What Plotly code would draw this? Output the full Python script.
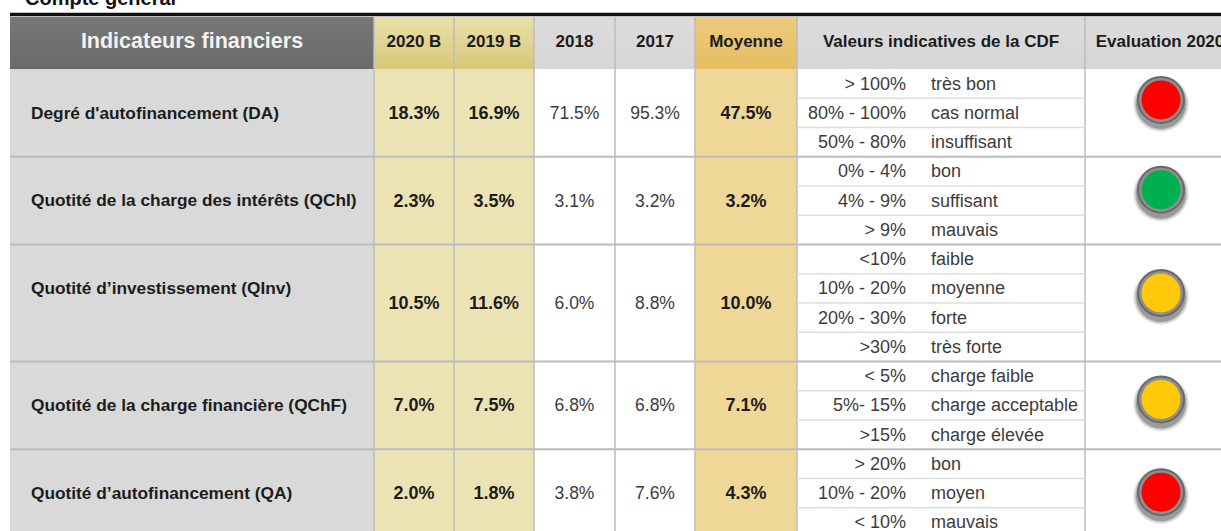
import plotly.graph_objects as go

# ---------- data ----------
title = "Compte général"
header_main = "Indicateurs financiers"
year_headers = ["2020 B", "2019 B", "2018", "2017", "Moyenne"]
cdf_header = "Valeurs indicatives de la CDF"
eval_header = "Evaluation 2020"
indicators = ["Degré d'autofinancement (DA)",
              "Quotité de la charge des intérêts (QChI)",
              "Quotité d’investissement (QInv)",
              "Quotité de la charge financière (QChF)",
              "Quotité d’autofinancement (QA)"]
v2020 = ["18.3%", "2.3%", "10.5%", "7.0%", "2.0%"]
v2019 = ["16.9%", "3.5%", "11.6%", "7.5%", "1.8%"]
v2018 = ["71.5%", "3.1%", "6.0%", "6.8%", "3.8%"]
v2017 = ["95.3%", "3.2%", "8.8%", "6.8%", "7.6%"]
vmean = ["47.5%", "3.2%", "10.0%", "7.1%", "4.3%"]
cdf_ranges = [["> 100%", "80% - 100%", "50% - 80%"],
              ["0% - 4%", "4% - 9%", "> 9%"],
              ["<10%", "10% - 20%", "20% - 30%", ">30%"],
              ["< 5%", "5%- 15%", ">15%"],
              ["> 20%", "10% - 20%", "< 10%"]]
cdf_labels = [["très bon", "cas normal", "insuffisant"],
              ["bon", "suffisant", "mauvais"],
              ["faible", "moyenne", "forte", "très forte"],
              ["charge faible", "charge acceptable", "charge élevée"],
              ["bon", "moyen", "mauvais"]]
lamps = ["red", "green", "amber", "amber", "red"]

# ---------- layout geometry ----------
W, H = 1221, 531
edges = [10, 374, 454, 534, 615, 695, 797, 1085, 1240]
head_top, head_bot = 17, 69
sub_h = 29.25
text_dy = 1.5
label_rows = 3                 # row labels are centred on the first three sub-rows
lamp_lift = [13, 11, 10, 6, 1]
lamp_x = 1161
range_x, label_x, title_x, ind_x = 906, 931, 25, 31
LAMP = {"red": "#fe0000", "green": "#00b050", "amber": "#ffc90a"}
GREY = "#d9d9d9"; LINE = "#bcbcbc"; SUB = "#dedede"
BUD = "#ebe3b3"; MEAN = "#efd797"
INK = "#1c1c1c"; SOFT = "#3c3c3c"
FONT = "Liberation Sans"

shapes = []
def rect(x0, x1, y0, y1, color):
    shapes.append(dict(type="rect", x0=x0, x1=x1, y0=y0, y1=y1, fillcolor=color,
                       line_width=0, layer="below"))
def line(x0, x1, y0, y1, color, w):
    shapes.append(dict(type="line", x0=x0, x1=x1, y0=y0, y1=y1,
                       line=dict(color=color, width=w), layer="below"))
def mix(a, b, t):
    ca = [int(a[i:i+2], 16) for i in (1, 3, 5)]
    cb = [int(b[i:i+2], 16) for i in (1, 3, 5)]
    return "rgb(%d,%d,%d)" % tuple(round(p + (q - p) * t) for p, q in zip(ca, cb))
def gradient(x0, x1, y0, y1, top, bottom):
    n = int(y1 - y0)                      # one strip per pixel row
    for i in range(n):
        rect(x0, x1, y0 + i, y0 + i + 1, mix(top, bottom, i / (n - 1)))

# row spans
counts = [len(r) for r in cdf_ranges]
row_tops = [head_bot]
for c in counts:
    row_tops.append(row_tops[-1] + c * sub_h)
row_mid = [(a + b) / 2 for a, b in zip(row_tops, row_tops[1:])]
label_mid = [t + label_rows * sub_h / 2 for t in row_tops[:-1]]

# backgrounds
rect(edges[0], edges[1], head_bot, H + 10, GREY)
rect(edges[1], edges[3], head_bot, H + 10, BUD)
rect(edges[5], edges[6], head_bot, H + 10, MEAN)
gradient(edges[0], edges[1], head_top, head_bot, "#777777", "#6a6a6a")
gradient(edges[1], edges[3], head_top, head_bot, "#e9e0ab", "#d8c878")
gradient(edges[3], edges[5], head_top, head_bot, "#dcdcdc", "#d6d6d6")
gradient(edges[5], edges[6], head_top, head_bot, "#eccb80", "#e7bd60")
gradient(edges[6], edges[8], head_top, head_bot, "#dcdcdc", "#d6d6d6")

# grid
for e in edges[1:8]:
    line(e, e, head_top, H + 10, LINE, 1.5)
for t in row_tops[1:-1]:
    line(edges[0], W, t, t, LINE, 2)
for t, c in zip(row_tops, counts):
    for k in range(1, c):
        line(edges[6], edges[7], t + k * sub_h, t + k * sub_h, SUB, 1.5)
line(edges[0], W, 14.5, 14.5, "#111111", 3.5)

# text
fig = go.Figure()
def text(xs, ys, labels, size, color, bold=False, pos="middle center"):
    fig.add_trace(go.Scatter(
        x=xs, y=ys, text=[f"<b>{s}</b>" if bold else s for s in labels],
        mode="text", textposition=pos, cliponaxis=False, hoverinfo="skip",
        textfont=dict(family=FONT, size=size, color=color)))
def centre(i):
    return (edges[i] + edges[i + 1]) / 2

head_y = (head_top + head_bot) / 2
text([title_x], [0], [title], 20, "#111111", True, "middle right")
text([centre(0)], [head_y], [header_main], 21.5, "#f2f2f2", True)
text([centre(i + 1) for i in range(5)], [head_y] * 5, year_headers, 17, INK, True)
text([centre(6)], [head_y], [cdf_header], 17, INK, True)
text([1160], [head_y], [eval_header], 17, INK, True)

text([ind_x] * 5, [m + text_dy for m in label_mid], indicators, 17.3, INK, True, "middle right")
for col, vals, bold in [(1, v2020, True), (2, v2019, True), (3, v2018, False),
                        (4, v2017, False), (5, vmean, True)]:
    text([centre(col)] * 5, [m + text_dy for m in row_mid], vals,
         18 if bold else 17.5, INK if bold else SOFT, bold)

ys, rng, lab = [], [], []
for t, rs, ls in zip(row_tops, cdf_ranges, cdf_labels):
    for k, (r, l) in enumerate(zip(rs, ls)):
        ys.append(t + (k + .5) * sub_h + text_dy); rng.append(r); lab.append(l)
text([range_x] * len(ys), ys, rng, 18, SOFT, False, "middle left")
text([label_x] * len(ys), ys, lab, 18, SOFT, False, "middle right")

# lamps
lx = [lamp_x] * 5
ly = [m - l for m, l in zip(row_mid, lamp_lift)]
for grow, op in [(56, .10), (53, .18), (50, .30)]:
    fig.add_trace(go.Scatter(x=lx, y=[v + 4 for v in ly], mode="markers", hoverinfo="skip",
                             marker=dict(size=grow, color=f"rgba(50,50,50,{op})", line_width=0)))
fig.add_trace(go.Scatter(x=lx, y=ly, mode="markers", hoverinfo="skip",
                         marker=dict(size=48, color="#696969", line_width=0)))
fig.add_trace(go.Scatter(x=lx, y=ly, mode="markers", hoverinfo="skip",
                         marker=dict(size=44, color="#8f8f8f", line_width=0)))
fig.add_trace(go.Scatter(x=lx, y=ly, mode="markers", hoverinfo="skip",
                         marker=dict(size=39, color=[LAMP[c] for c in lamps], line_width=0)))

fig.update_layout(
    width=W, height=H, margin=dict(l=0, r=0, t=0, b=0), showlegend=False,
    paper_bgcolor="white", plot_bgcolor="white", shapes=shapes,
    xaxis=dict(range=[0, W], visible=False, fixedrange=True),
    yaxis=dict(range=[H, 0], visible=False, fixedrange=True))
fig.write_html("out.html", config={"displayModeBar": False},
               post_script="document.body.style.margin='0';document.body.style.overflow='hidden';")
